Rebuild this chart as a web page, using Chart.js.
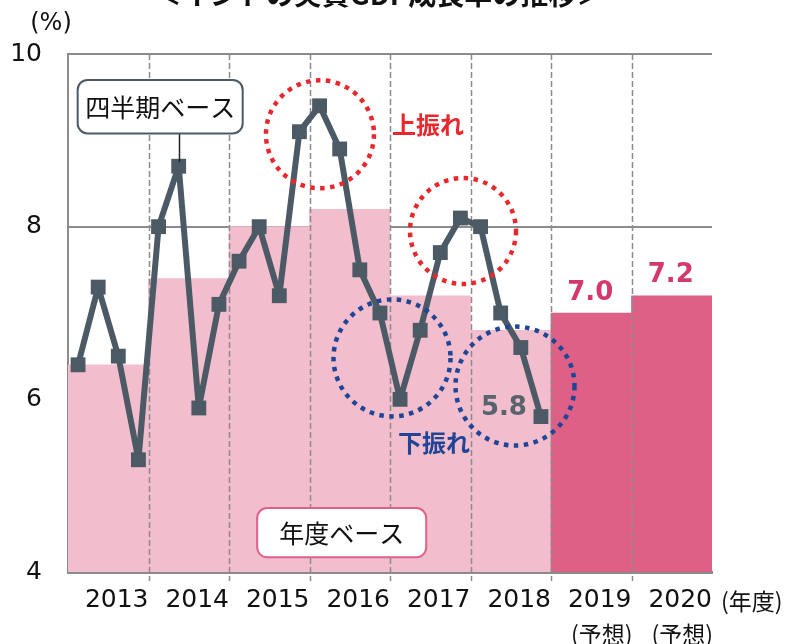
<!DOCTYPE html>
<html><head><meta charset="utf-8">
<script src="https://cdn.jsdelivr.net/npm/chart.js@4.4.0/dist/chart.umd.min.js"></script>
<style>html,body{margin:0;padding:0;background:#fff}#wrap{width:790px;height:644px;position:relative}</style>
</head><body><div id="wrap"><canvas id="c" width="790" height="644"></canvas></div>
<script>
// ---- data ----
const years = ['2013','2014','2015','2016','2017','2018','2019','2020'];
const yearNotes = ['','','','','','','(予想)','(予想)'];
const annualGrowth = [6.4, 7.4, 8.0, 8.2, 7.2, 6.8, 7.0, 7.2];
const isForecast = [false,false,false,false,false,false,true,true];
const quarterlyGrowth = [6.4,7.3,6.5,5.3, 8.0,8.7,5.9,7.1, 7.6,8.0,7.2,9.1, 9.4,8.9,7.5,7.0, 6.0,6.8,7.7,8.1, 8.0,7.0,6.6,5.8];
const yTicks = [4,6,8,10];
const titleText = '＜インドの実質GDP成長率の推移＞';
const unitText = '(%)';
const xUnitText = '(年度)';

// ---- styles ----
const FONT = "'DejaVu Sans', 'Noto Sans CJK JP', sans-serif";
const JFONT = "'Noto Sans CJK JP', 'DejaVu Sans', sans-serif";
const PINK = '#f2bdcd', DPINK = '#df6087', LINE = '#4c5a66', GRID = '#8c8c8c';
const RED = '#e8282d', BLUE = '#1f4596';

const barPoints = annualGrowth.map((v, i) => ({x: i + 0.5, y: v}));
const quarterPoints = quarterlyGrowth.map((v, k) => ({x: Math.floor(k / 4) + ((k % 4) + 0.5) / 4, y: v}));

// annotation placements (x in fiscal-year units, y in %)
const notes = {
  qBox: {x0: 0.12, x1: 2.17, y0: 9.70, y1: 9.08, text: '四半期ベース', border: LINE, leaderTo: 5},
  aBox: {x0: 2.35, x1: 4.45, y0: 4.74, y1: 4.17, text: '年度ベース', border: '#e0608a'},
  circles: [
    {x: 3.13, y: 9.07, r: 54, color: RED},
    {x: 4.907, y: 7.95, r: 53, color: RED},
    {x: 4.025, y: 6.48, r: 58.5, color: BLUE},
    {x: 5.553, y: 6.154, r: 59.5, color: BLUE}
  ],
  texts: [
    {x: 4.472, y: 9.18, text: '上振れ', color: RED},
    {x: 4.547, y: 5.494, text: '下振れ', color: BLUE}
  ]
};

function rrect(ctx, x, y, w, h, r) {
  ctx.beginPath();
  ctx.moveTo(x + r, y);
  ctx.arcTo(x + w, y, x + w, y + h, r);
  ctx.arcTo(x + w, y + h, x, y + h, r);
  ctx.arcTo(x, y + h, x, y, r);
  ctx.arcTo(x, y, x + w, y, r);
  ctx.closePath();
}

const overlay = {
  id: 'overlay',
  afterDatasetDraw(chart, args) {
    if (args.meta.type !== 'bar') return;
    const {ctx, chartArea} = chart;
    const xs = chart.scales.x;
    ctx.save();
    ctx.strokeStyle = GRID;
    ctx.lineWidth = 1.5;
    ctx.setLineDash([6, 3]);
    for (let k = 1; k < years.length; k++) {
      const px = Math.round(xs.getPixelForValue(k)) + 0.5;
      ctx.beginPath();
      ctx.moveTo(px, chartArea.top);
      ctx.lineTo(px, chartArea.bottom + 9);
      ctx.stroke();
    }
    ctx.restore();
  },
  afterDatasetsDraw(chart) {
    const {ctx} = chart;
    const xs = chart.scales.x, ys = chart.scales.y;
    const X = v => xs.getPixelForValue(v), Y = v => ys.getPixelForValue(v);
    ctx.save();
    // boxes
    [notes.qBox, notes.aBox].forEach(b => {
      const x0 = X(b.x0), x1 = X(b.x1), y0 = Y(b.y0), y1 = Y(b.y1);
      if (b.leaderTo !== undefined) {
        const pt = chart.getDatasetMeta(0).data[b.leaderTo];
        ctx.strokeStyle = '#222';
        ctx.lineWidth = 1.5;
        ctx.beginPath();
        ctx.moveTo(Math.round(pt.x) + 0.5, y1);
        ctx.lineTo(Math.round(pt.x) + 0.5, pt.y - 4);
        ctx.stroke();
      }
      rrect(ctx, x0, y0, x1 - x0, y1 - y0, 10);
      ctx.fillStyle = '#fff';
      ctx.fill();
      ctx.lineWidth = 2;
      ctx.strokeStyle = b.border;
      ctx.stroke();
      ctx.fillStyle = '#111';
      ctx.font = '25px ' + JFONT;
      ctx.textAlign = 'center';
      ctx.textBaseline = 'middle';
      ctx.fillText(b.text, (x0 + x1) / 2, (y0 + y1) / 2 + 1);
    });
    // dotted circles
    ctx.lineWidth = 4.5;
    ctx.setLineDash([4.5, 5.5]);
    notes.circles.forEach(c => {
      ctx.strokeStyle = c.color;
      ctx.beginPath();
      ctx.arc(X(c.x), Y(c.y), c.r, 0, Math.PI * 2);
      ctx.stroke();
    });
    ctx.setLineDash([]);
    // texts
    ctx.font = 'bold 24px ' + JFONT;
    ctx.textAlign = 'center';
    ctx.textBaseline = 'middle';
    notes.texts.forEach(t => {
      ctx.fillStyle = t.color;
      ctx.fillText(t.text, X(t.x), Y(t.y));
    });
    // last quarterly value label
    const lineMeta = chart.getDatasetMeta(0);
    const last = lineMeta.data[lineMeta.data.length - 1];
    ctx.font = 'bold 26px ' + FONT;
    ctx.fillStyle = '#59636c';
    ctx.textAlign = 'right';
    ctx.fillText(quarterlyGrowth[quarterlyGrowth.length - 1].toFixed(1), last.x - 14, last.y - 8);
    // forecast bar labels
    const barMeta = chart.getDatasetMeta(1);
    ctx.textAlign = 'center';
    ctx.fillStyle = '#d3396b';
    barMeta.data.forEach((b, i) => {
      if (!isForecast[i]) return;
      ctx.fillText(annualGrowth[i].toFixed(1), b.x - 1, b.y - 20);
    });
    ctx.restore();
  },
  afterDraw(chart) {
    const {ctx, chartArea} = chart;
    const xs = chart.scales.x;
    ctx.save();
    ctx.fillStyle = '#111';
    ctx.font = 'bold 28px ' + JFONT;
    ctx.textAlign = 'center';
    ctx.textBaseline = 'alphabetic';
    ctx.fillText(titleText, 379, 5);
    ctx.font = '24px ' + FONT;
    ctx.textBaseline = 'middle';
    ctx.fillText(unitText, 51, 24);
    ctx.textAlign = 'left';
    ctx.font = '23px ' + JFONT;
    ctx.fillText(xUnitText, chartArea.right + 9, 601);
    ctx.textAlign = 'right';
    ctx.font = '23px ' + JFONT;
    yearNotes.forEach((n, i) => {
      if (!n) return;
      ctx.fillText(n, xs.getPixelForValue(i + 1) + 1, 634);
    });
    ctx.restore();
  }
};

new Chart(document.getElementById('c'), {
  type: 'bar',
  data: {
    datasets: [
      {
        type: 'line', label: '四半期ベース', data: quarterPoints,
        borderColor: LINE, borderWidth: 6, tension: 0, borderJoinStyle: 'round',
        pointStyle: 'rect', pointRadius: 10.5, pointBackgroundColor: LINE,
        pointBorderWidth: 0, pointHoverRadius: 10.5, order: 0, xAxisID: 'x', yAxisID: 'y'
      },
      {
        type: 'bar', label: '年度ベース', data: barPoints,
        backgroundColor: isForecast.map(f => f ? DPINK : PINK),
        borderWidth: 0, barPercentage: 1, categoryPercentage: 1, order: 1,
        xAxisID: 'x', yAxisID: 'y'
      }
    ]
  },
  options: {
    responsive: false, animation: false, devicePixelRatio: 1,
    layout: {padding: {left: 0, right: 78, top: 54, bottom: 0}},
    plugins: {legend: {display: false}, tooltip: {enabled: false}, title: {display: false}},
    scales: {
      x: {
        type: 'linear', min: 0, max: years.length, offset: false,
        afterFit(s) { s.height = 72; },
        afterBuildTicks(s) { s.ticks = Array.from({length: years.length + 1}, (_, v) => ({value: v})); },
        ticks: {
          autoSkip: false, maxRotation: 0, minRotation: 0, align: 'end', padding: 13,
          font: {family: FONT, size: 25}, color: '#111',
          callback: v => (v >= 1 ? years[v - 1] : '')
        },
        grid: {display: true, drawOnChartArea: false, drawTicks: false},
        border: {display: true, color: GRID, width: 3}
      },
      y: {
        min: yTicks[0], max: yTicks[yTicks.length - 1],
        afterFit(s) { s.width = 68; },
        afterBuildTicks(s) { s.ticks = yTicks.map(v => ({value: v})); },
        ticks: {padding: 26, font: {family: FONT, size: 25}, color: '#111'},
        grid: {color: GRID, lineWidth: 2, drawTicks: false},
        border: {display: true, color: GRID, width: 2}
      }
    }
  },
  plugins: [overlay]
});
</script>
</body></html>
